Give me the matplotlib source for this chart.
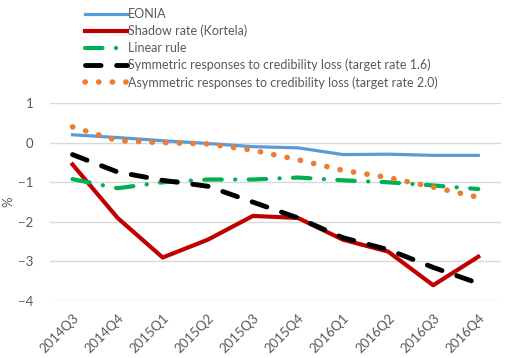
import matplotlib.pyplot as plt

quarters = ['2014Q3', '2014Q4', '2015Q1', '2015Q2', '2015Q3',
            '2015Q4', '2016Q1', '2016Q2', '2016Q3', '2016Q4']
eonia = [0.2, 0.13, 0.05, -0.02, -0.1, -0.13, -0.3, -0.29, -0.32, -0.32]
shadow = [-0.55, -1.9, -2.9, -2.45, -1.85, -1.9, -2.45, -2.75, -3.6, -2.88]
linear = [-0.92, -1.15, -1.0, -0.93, -0.93, -0.88, -0.95, -1.0, -1.08, -1.17]
symmetric = [-0.3, -0.74, -0.95, -1.1, -1.5, -1.9, -2.4, -2.7, -3.15, -3.55]
asymmetric = [0.4, 0.05, 0.0, -0.03, -0.19, -0.43, -0.7, -0.88, -1.12, -1.38]

grey = '#595959'
plt.rcParams['font.family'] = ['Lato', 'DejaVu Sans']

fig = plt.figure(figsize=(5.1, 3.58), dpi=100)
ax = fig.add_axes([0.098, 0.159, 0.884, 0.553])

x = range(len(quarters))
l1, = ax.plot(x, eonia, color='#5b9bd5', lw=2.3, label='EONIA')
l2, = ax.plot(x, shadow, color='#c00000', lw=3, label='Shadow rate (Kortela)')
l3, = ax.plot(x, linear, color='#00b050', lw=3, dash_capstyle='round',
              linestyle=(0, (4.2, 3.2, 0.05, 3.2)), label='Linear rule')
l4, = ax.plot(x, symmetric, color='black', lw=3.5, dash_capstyle='round',
              linestyle=(0, (3.2, 3.2)),
              label='Symmetric responses to credibility loss (target rate 1.6)')
l5, = ax.plot(x, asymmetric, color='#ed7d31', lw=4, dash_capstyle='round',
              linestyle=(0, (0.05, 2.4)),
              label='Asymmetric responses to credibility loss (target rate 2.0)')

ax.set_ylim(-4, 1)
ax.set_xlim(-0.5, 9.5)
ax.set_yticks([1, 0, -1, -2, -3, -4])
ax.set_xticks(list(x))
ax.set_xticklabels(quarters, rotation=45, ha='right', rotation_mode='anchor')
ax.tick_params(length=0, colors=grey, labelsize=9.5)
ax.tick_params(axis='x', pad=8)
ax.tick_params(axis='y', pad=12)
ax.grid(axis='y', color='#d9d9d9', lw=1)
ax.set_axisbelow(True)
for s in ax.spines.values():
    s.set_visible(False)
ax.set_ylabel('%', color=grey, fontsize=9.5)
ax.yaxis.set_label_coords(-0.08, 0.5)

fig.legend(handles=[l1, l2, l3, l4, l5], loc='upper left',
           bbox_to_anchor=(0.15, 1.0), frameon=False, fontsize=9,
           labelcolor=grey, handlelength=3.4, handletextpad=0.1,
           labelspacing=0.38, borderaxespad=0.25)

fig.savefig('out.png', dpi=100)
